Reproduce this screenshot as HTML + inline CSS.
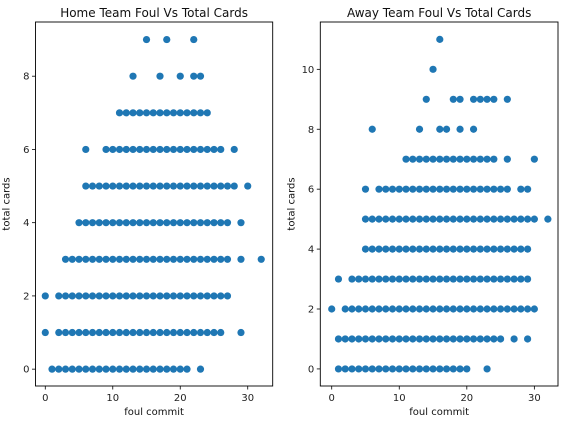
<!DOCTYPE html>
<html><head><meta charset="utf-8"><style>
html,body{margin:0;padding:0;background:#fff;}
svg{display:block;font-family:"DejaVu Sans","Liberation Sans",sans-serif;}
</style></head><body>
<svg id="c" width="568" height="424"></svg>
<script>
// Home team: fouls per card level
const homeLevels = [0,1,2,3,4,5,6,7,8,9];
const homeFouls = [
 [1,2,3,4,5,6,7,8,9,10,11,12,13,14,15,16,17,18,19,20,21,23],
 [0,2,3,4,5,6,7,8,9,10,11,12,13,14,15,16,17,18,19,20,21,22,23,24,25,26,29],
 [0,2,3,4,5,6,7,8,9,10,11,12,13,14,15,16,17,18,19,20,21,22,23,24,25,26,27],
 [3,4,5,6,7,8,9,10,11,12,13,14,15,16,17,18,19,20,21,22,23,24,25,26,27,29,32],
 [5,6,7,8,9,10,11,12,13,14,15,16,17,18,19,20,21,22,23,24,25,26,27,29],
 [6,7,8,9,10,11,12,13,14,15,16,17,18,19,20,21,22,23,24,25,26,27,28,30],
 [6,9,10,11,12,13,14,15,16,17,18,19,20,21,22,23,24,25,26,28],
 [11,12,13,14,15,16,17,18,19,20,21,22,23,24],
 [13,17,20,22,23],
 [15,18,22]
];
// Away team
const awayLevels = [0,1,2,3,4,5,6,7,8,9,10,11];
const awayFouls = [
 [1,2,3,4,5,6,7,8,9,10,11,12,13,14,15,16,17,18,19,20,23],
 [1,2,3,4,5,6,7,8,9,10,11,12,13,14,15,16,17,18,19,20,21,22,23,24,25,27,29],
 [0,2,3,4,5,6,7,8,9,10,11,12,13,14,15,16,17,18,19,20,21,22,23,24,25,26,27,28,29,30],
 [1,3,4,5,6,7,8,9,10,11,12,13,14,15,16,17,18,19,20,21,22,23,24,25,26,27,28,29],
 [5,6,7,8,9,10,11,12,13,14,15,16,17,18,19,20,21,22,23,24,25,26,27,28,29],
 [5,6,7,8,9,10,11,12,13,14,15,16,17,18,19,20,21,22,23,24,25,26,27,28,29,30,32],
 [5,7,8,9,10,11,12,13,14,15,16,17,18,19,20,21,22,23,24,25,26,28,29],
 [11,12,13,14,15,16,17,18,19,20,21,22,23,24,26,30],
 [6,13,16,17,19,21],
 [14,18,19,21,22,23,24,26],
 [15],
 [16]
];
const homeYTicks = [0,2,4,6,8];
const awayYTicks = [0,2,4,6,8,10];
const xTicks = [0,10,20,30];

const NS = "http://www.w3.org/2000/svg";
const svg = document.getElementById('c');
function mk(tag, attrs, parent){const e=document.createElementNS(NS,tag);for(const k in attrs)e.setAttribute(k,attrs[k]);(parent||svg).appendChild(e);return e;}

function panel(cfg){
  const g = mk('g',{});
  
  
  const sx = v => cfg.x0 + (v - cfg.xmin)/(cfg.xmax - cfg.xmin)*(cfg.x1 - cfg.x0);
  const sy = v => cfg.y1 - (v - cfg.ymin)/(cfg.ymax - cfg.ymin)*(cfg.y1 - cfg.y0);
  const pts = mk('g',{fill:'#1f77b4'},g);
  
  
  cfg.levels.forEach((lv,i)=>{
    cfg.fouls[i].forEach(f=>{
      const c = mk('circle',{cx:sx(f),cy:sy(lv),r:3.6},pts);
      
      
    });
  });
  const fr = mk('rect',{x:cfg.x0,y:cfg.y0,width:cfg.x1-cfg.x0,height:cfg.y1-cfg.y0,fill:'none',stroke:'#000','stroke-width':0.9},g);
  
  
  xTicks.forEach(t=>{
    const x=sx(t);
    mk('line',{x1:x,x2:x,y1:cfg.y1,y2:cfg.y1+3.5,stroke:'#000','stroke-width':0.8},g);
    const tx=mk('text',{x:x,y:cfg.y1+15,'text-anchor':'middle','font-size':10,fill:'#222'},g);
    tx.textContent=t;
    
    
  });
  cfg.yTicks.forEach(t=>{
    const y=sy(t);
    mk('line',{x1:cfg.x0-3.5,x2:cfg.x0,y1:y,y2:y,stroke:'#000','stroke-width':0.8},g);
    const tx=mk('text',{x:cfg.x0-6,y:y+3.5,'text-anchor':'end','font-size':10,fill:'#222'},g);
    tx.textContent=t;
    
    
  });
  const ti=mk('text',{x:(cfg.x0+cfg.x1)/2,y:17,'text-anchor':'middle','font-size':12,fill:'#111'},g);
  ti.textContent=cfg.title;
  
  
  const xl=mk('text',{x:(cfg.x0+cfg.x1)/2,y:415,'text-anchor':'middle','font-size':10,fill:'#111'},g);
  xl.textContent='foul commit';
  
  
  const yx=cfg.x0-26, yy=(cfg.y0+cfg.y1)/2;
  const yl=mk('text',{x:yx,y:yy,'text-anchor':'middle','font-size':10,fill:'#111',transform:`rotate(-90 ${yx} ${yy})`},g);
  yl.textContent='total cards';
  
  
}
panel({name:'home-panel',title:'Home Team Foul Vs Total Cards',levels:homeLevels,fouls:homeFouls,yTicks:homeYTicks,
  x0:35.5,x1:272.7,y0:22,y1:386,xmin:-1.45,xmax:33.7,ymin:-0.46,ymax:9.48});
panel({name:'away-panel',title:'Away Team Foul Vs Total Cards',levels:awayLevels,fouls:awayFouls,yTicks:awayYTicks,
  x0:320.3,x1:558,y0:22,y1:386,xmin:-1.69,xmax:33.5,ymin:-0.57,ymax:11.58});
</script>
</body></html>
